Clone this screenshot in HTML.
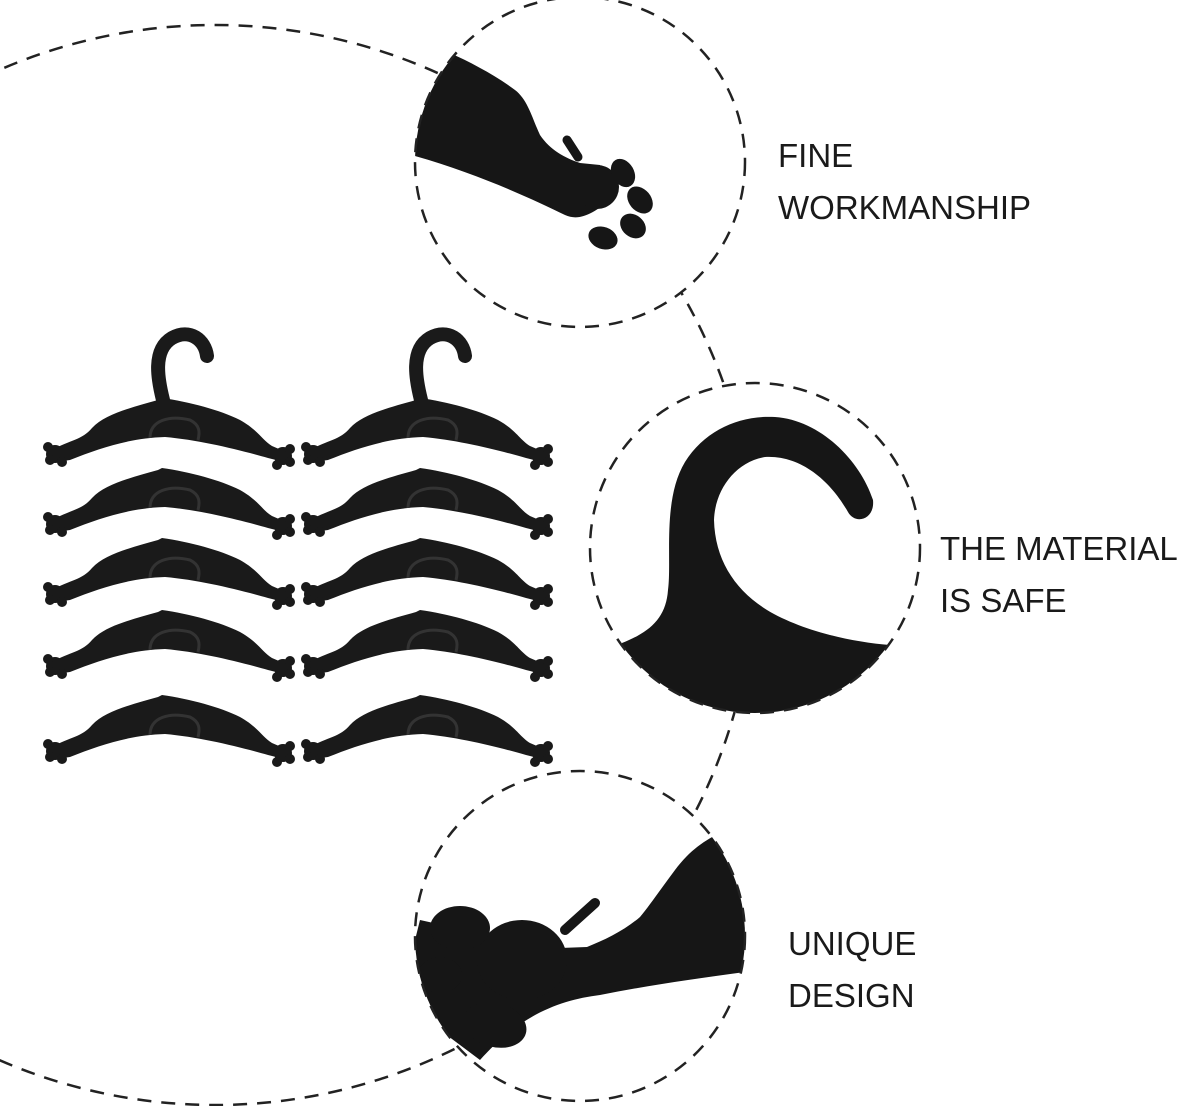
<!DOCTYPE html>
<html><head><style>
html,body{margin:0;padding:0;background:#fff;}
.t{position:absolute;font-family:"Liberation Sans",sans-serif;font-size:33px;color:#1a1a1a;line-height:52px;}
</style></head><body>
<div style="position:relative;width:1192px;height:1106px;overflow:hidden">
<svg width="1192" height="1106" viewBox="0 0 1192 1106" style="position:absolute;left:0;top:0">
<defs>
<g id="body">
<path d="M52,450 C70,440 82,440 92,428 C105,414 130,408 158,400 L162,398 C190,402 220,410 240,420 C258,430 262,440 272,446 L286,452 L284,462 L268,458 C240,450 200,440 165,437 C130,438 100,448 70,460 L56,462 Z" fill="#1a1a1a"/>
<circle cx="55" cy="454" r="9" fill="#1a1a1a"/><circle cx="48" cy="447" r="5" fill="#1a1a1a"/><circle cx="50" cy="460" r="5" fill="#1a1a1a"/><circle cx="62" cy="462" r="5" fill="#1a1a1a"/>
<circle cx="283" cy="456" r="9" fill="#1a1a1a"/><circle cx="290" cy="449" r="5" fill="#1a1a1a"/><circle cx="290" cy="462" r="5" fill="#1a1a1a"/><circle cx="277" cy="465" r="5" fill="#1a1a1a"/>
<path d="M150,438 C150,420 170,415 190,420 C200,425 200,432 198,440" fill="none" stroke="#333" stroke-width="3"/>
</g>
<g id="hook">
<path d="M163,400 C158,380 152,350 172,338 C190,328 205,340 207,356" fill="none" stroke="#1a1a1a" stroke-width="14" stroke-linecap="round"/>
</g>
<g id="hanger">
<use href="#hook"/>
<use href="#body"/>
<use href="#body" y="70"/>
<use href="#body" y="140"/>
<use href="#body" y="212"/>
<use href="#body" y="297"/>
</g>
<clipPath id="c1"><circle cx="580" cy="162" r="165"/></clipPath>
<clipPath id="c2"><circle cx="755" cy="548" r="165"/></clipPath>
<clipPath id="c3"><circle cx="580" cy="936" r="165"/></clipPath>
</defs>
<g fill="none" stroke="#222" stroke-width="2.5" stroke-dasharray="14 10">
<circle cx="215" cy="565" r="540"/>
</g>
<circle cx="580" cy="162" r="165" fill="#fff"/>
<circle cx="755" cy="548" r="165" fill="#fff"/>
<circle cx="580" cy="936" r="165" fill="#fff"/>
<g clip-path="url(#c1)" fill="#161616">
<path d="M450,53 C470,62 495,75 515,90 C528,100 532,118 540,135 C550,150 565,158 580,163 L600,165 L610,200 C595,212 580,222 565,215 C530,198 470,170 400,152 L400,53 Z"/>
<path d="M567,140 L578,157" stroke="#161616" stroke-width="9" stroke-linecap="round"/>
<circle cx="597" cy="187" r="22"/>
<ellipse cx="623" cy="173" rx="11" ry="15" transform="rotate(-30 623 173)"/>
<ellipse cx="640" cy="200" rx="11" ry="15" transform="rotate(-40 640 200)"/>
<ellipse cx="633" cy="226" rx="11" ry="14" transform="rotate(-50 633 226)"/>
<ellipse cx="603" cy="238" rx="15" ry="11" transform="rotate(20 603 238)"/>
</g>
<g clip-path="url(#c2)" fill="#161616">
<path d="M622,643 C650,632 666,618 668,590 C672,560 662,500 685,462 C705,430 740,415 775,417 C820,420 860,460 873,500 C875,520 855,525 848,512 C830,480 800,455 765,457 C735,462 715,490 714,520 C715,560 735,590 767,610 C800,630 850,642 890,645 L900,760 L600,760 Z"/>
</g>
<g clip-path="url(#c3)" fill="#161616">
<path d="M722,832 C705,840 690,850 675,870 C660,890 650,905 640,917 C625,930 605,940 587,947 L560,948 L510,940 L420,920 L400,1000 L480,1060 C520,1015 560,1000 600,995 C650,985 700,978 760,970 L760,832 Z"/>
<path d="M565,930 L595,903" stroke="#161616" stroke-width="10" stroke-linecap="round"/>
<ellipse cx="522" cy="960" rx="45" ry="40"/>
<ellipse cx="460" cy="928" rx="30" ry="22"/>
<ellipse cx="440" cy="975" rx="22" ry="18"/>
<ellipse cx="495" cy="1025" rx="32" ry="22" transform="rotate(15 495 1025)"/>
</g>
<g fill="none" stroke="#222" stroke-width="2.5" stroke-dasharray="14 10">
<circle cx="580" cy="162" r="165"/>
<circle cx="755" cy="548" r="165"/>
<circle cx="580" cy="936" r="165"/>
</g>
<use href="#hanger"/>
<use href="#hanger" x="258"/>
</svg>
<div class="t" style="left:778px;top:130px">FINE<br>WORKMANSHIP</div>
<div class="t" style="left:940px;top:523px">THE MATERIAL<br>IS SAFE</div>
<div class="t" style="left:788px;top:918px">UNIQUE<br>DESIGN</div>
</div>
</body></html>
